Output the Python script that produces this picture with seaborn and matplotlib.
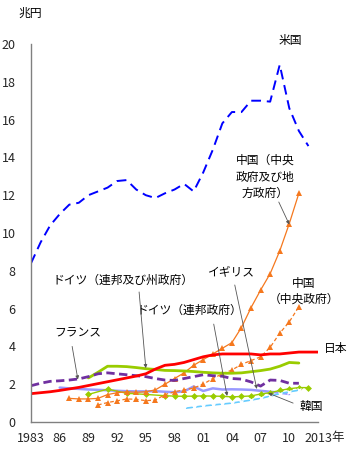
import numpy as np
import pandas as pd
import matplotlib
matplotlib.use("Agg")
import matplotlib.pyplot as plt
import seaborn as sns

# ---------------- data ----------------
us_years = list(range(1983, 2013))
us_vals = [8.4, 9.5, 10.4, 11.0, 11.5, 11.6, 12.0, 12.2, 12.4, 12.75, 12.8, 12.3, 12.0, 11.85, 12.1, 12.3,
           12.6, 12.2, 13.2, 14.4, 15.8, 16.4, 16.4, 17.0, 17.0, 16.95, 18.9, 16.6, 15.4, 14.6]

jp_years = list(range(1983, 2014))
jp_vals = [1.5, 1.55, 1.6, 1.67, 1.75, 1.83, 1.93, 2.03, 2.13, 2.23, 2.33, 2.43, 2.55, 2.8, 3.0, 3.05,
           3.15, 3.3, 3.45, 3.55, 3.6, 3.6, 3.6, 3.6, 3.55, 3.6, 3.6, 3.65, 3.7, 3.7, 3.7]

de_all_years = list(range(1989, 2012))
de_all_vals = [2.33, 2.63, 2.95, 2.95, 2.93, 2.88, 2.82, 2.78, 2.73, 2.72, 2.7, 2.67, 2.63, 2.6, 2.58,
               2.58, 2.6, 2.66, 2.72, 2.8, 2.95, 3.15, 3.12]

fr_years = list(range(1983, 2012))
fr_vals = [1.92, 2.05, 2.15, 2.18, 2.22, 2.28, 2.4, 2.55, 2.6, 2.55, 2.5, 2.45, 2.4, 2.3, 2.22, 2.2,
           2.3, 2.4, 2.5, 2.45, 2.42, 2.3, 2.27, 2.12, 1.9, 2.22, 2.2, 2.05, 2.05]

uk_years = list(range(1986, 2011))
uk_vals = [1.82, 1.78, 1.75, 1.72, 1.7, 1.68, 1.65, 1.63, 1.62, 1.62, 1.63, 1.6, 1.58, 1.62, 1.88,
           1.64, 1.78, 1.72, 1.73, 1.72, 1.7, 1.65, 1.6, 1.55, 1.48]

de_fed_years = [1989, 1991, 1993, 1995, 1997, 1998, 1999, 2000, 2001, 2002, 2003, 2004, 2005, 2006,
                2007, 2008, 2009, 2010, 2011, 2012]
de_fed_vals = [1.46, 1.74, 1.52, 1.46, 1.39, 1.37, 1.36, 1.37, 1.38, 1.37, 1.36, 1.33, 1.35, 1.38,
               1.48, 1.55, 1.67, 1.76, 1.82, 1.82]

kr_years = list(range(1999, 2012))
kr_vals = [0.72, 0.78, 0.85, 0.9, 0.95, 1.0, 1.08, 1.16, 1.25, 1.37, 1.5, 1.6, 1.68]

cn_all_years = list(range(1987, 2012))
cn_all_vals = [1.25, 1.22, 1.22, 1.25, 1.45, 1.55, 1.6, 1.57, 1.6, 1.7, 2.0, 2.3, 2.6, 3.0, 3.3,
               3.6, 3.9, 4.2, 5.0, 6.05, 6.98, 7.85, 9.05, 10.5, 12.1]

cn_c_years = list(range(1990, 2012))
cn_c_vals = [0.9, 1.03, 1.12, 1.22, 1.2, 1.13, 1.16, 1.45, 1.6, 1.7, 1.8, 2.0, 2.3, 2.55, 2.75, 3.05,
             3.25, 3.45, 3.95, 4.7, 5.3, 6.1]

xtick_pos = [1983, 1986, 1989, 1992, 1995, 1998, 2001, 2004, 2007, 2010, 2013]
xtick_labels = ["1983", "86", "89", "92", "95", "98", "01", "04", "07", "10", "2013"]
ytick_pos = [0, 2, 4, 6, 8, 10, 12, 14, 16, 18, 20]

# ---------------- style ----------------
sns.set_style("white")
plt.rcParams['font.family'] = ['Noto Sans CJK JP', 'DejaVu Sans']

fig = plt.figure(figsize=(3.5, 4.61), dpi=100)
ax = fig.add_axes([31/350, 1-422/461, (318-31)/350, (422-44)/461])

BLUE = "#0000ff"
RED = "#ff0000"
GREEN = "#99cc00"
PURPLE = "#7030a0"
LAV = "#9999ff"
ORANGE = "#f5781e"
CYAN = "#66ccff"

sns.lineplot(x=uk_years, y=uk_vals, ax=ax, color=LAV, lw=1.8)
sns.lineplot(x=de_fed_years, y=de_fed_vals, ax=ax, color=GREEN, lw=1.0, marker="D",
             markersize=3.5, markeredgewidth=0)
sns.lineplot(x=kr_years, y=kr_vals, ax=ax, color=CYAN, lw=1.2, marker="x",
             markersize=3, markeredgewidth=1)
sns.lineplot(x=cn_c_years, y=cn_c_vals, ax=ax, color=ORANGE, lw=0.9, linestyle=(0, (3, 2)),
             marker="^", markersize=4, markeredgewidth=0)
sns.lineplot(x=cn_all_years, y=cn_all_vals, ax=ax, color=ORANGE, lw=0.9,
             marker="^", markersize=4, markeredgewidth=0)
sns.lineplot(x=de_all_years, y=de_all_vals, ax=ax, color=GREEN, lw=2.0)
sns.lineplot(x=fr_years, y=fr_vals, ax=ax, color=PURPLE, lw=2.0, linestyle=(0, (3, 1.6)))
sns.lineplot(x=jp_years, y=jp_vals, ax=ax, color=RED, lw=2.0)
sns.lineplot(x=us_years, y=us_vals, ax=ax, color=BLUE, lw=1.4, linestyle=(0, (5, 3)))

ax.set_xlim(1983, 2013)
ax.set_ylim(0, 20)
ax.set_xlabel("")
ax.set_ylabel("")
ax.set_xticks(xtick_pos)
ax.set_xticklabels(xtick_labels)
ax.set_xticks(list(range(1983, 2014)), minor=True)
ax.set_yticks(ytick_pos)
ax.set_yticklabels([str(v) for v in ytick_pos])

for s in ["top", "right"]:
    ax.spines[s].set_visible(False)
for s in ["left", "bottom"]:
    ax.spines[s].set_color("#808080")
    ax.spines[s].set_linewidth(1.0)

ax.tick_params(axis="both", which="both", direction="in", color="#808080", width=0.8)
ax.tick_params(axis="x", which="both", length=4, pad=7, labelsize=9)
ax.tick_params(axis="y", which="major", length=3, pad=11, labelsize=9)

TXT = dict(fontsize=8.5, color="black")
ARW = dict(arrowstyle="-|>", color="#555555", lw=0.6, mutation_scale=5, shrinkA=0, shrinkB=0)

ax.text(1982.9, 21.64, "兆円", ha="center", va="center", clip_on=False, **TXT)
ax.text(2010.07, 20.2, "米国", ha="center", va="center", clip_on=False, **TXT)
ax.text(2007.46, 12.96, "中国（中央\n政府及び地\n方政府）", ha="center", va="center",
        linespacing=1.35, **TXT)
ax.annotate("", xy=(2010.0, 10.45), xytext=(2008.9, 11.64), arrowprops=ARW)
ax.text(2004.0, 7.94, "イギリス", ha="center", va="center", **TXT)
ax.annotate("", xy=(2006.6, 1.75), xytext=(2004.3, 7.25), arrowprops=ARW)
ax.text(2011.5, 6.93, "中国\n（中央政府）", ha="center", va="center", linespacing=1.3,
        clip_on=False, **TXT)
ax.text(2014.8, 3.9, "日本", ha="center", va="center", clip_on=False, **TXT)
ax.text(2012.3, 0.8, "韓国", ha="center", va="center", clip_on=False, **TXT)
ax.annotate("", xy=(2007.8, 1.53), xytext=(2010.4, 1.0), arrowprops=ARW)
ax.text(1999.6, 5.93, "ドイツ（連邦政府）", ha="center", va="center", **TXT)
ax.annotate("", xy=(2003.5, 1.38), xytext=(2002.1, 5.18), arrowprops=ARW)
ax.text(1992.6, 7.5, "ドイツ（連邦及び州政府）", ha="center", va="center", **TXT)
ax.annotate("", xy=(1995.0, 2.85), xytext=(1994.3, 6.88), arrowprops=ARW)
ax.text(1987.9, 4.7, "フランス", ha="center", va="center", **TXT)
ax.annotate("", xy=(1987.9, 2.25), xytext=(1987.3, 4.0), arrowprops=ARW)

ax.text(2015.0, -0.04, "年", transform=ax.get_xaxis_transform(), ha="center", va="center",
        clip_on=False, fontsize=9)

fig.savefig("out.png", dpi=100, facecolor="white")
